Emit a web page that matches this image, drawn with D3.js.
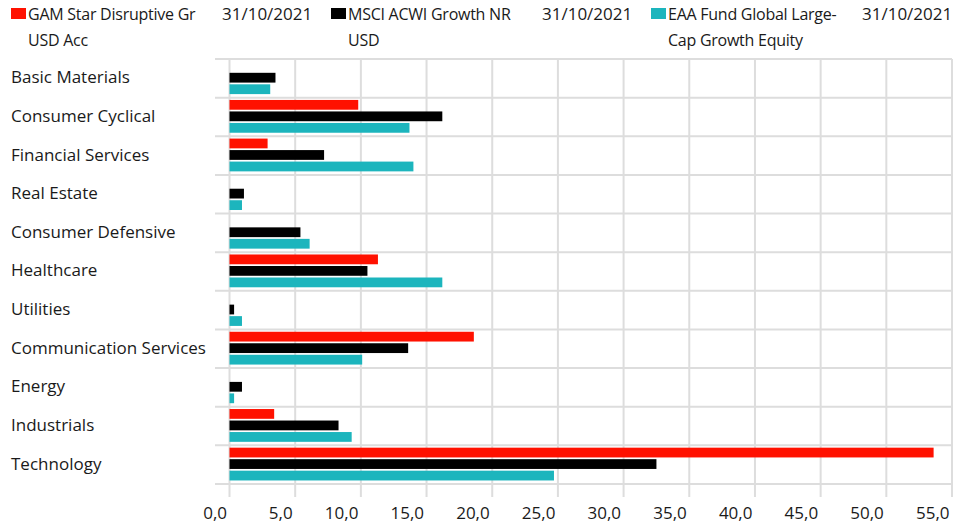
<!DOCTYPE html>
<html>
<head>
<meta charset="utf-8">
<script src="https://cdn.jsdelivr.net/npm/d3@7"></script>
<style>
  body { margin: 0; background: #fff; }
  svg text { font-family: "Open Sans", "Noto Sans", sans-serif; fill: #1a1a1a; }
</style>
</head>
<body>
<svg id="chart" width="954" height="528"></svg>
<script>
const categories = ['Basic Materials', 'Consumer Cyclical', 'Financial Services', 'Real Estate',
  'Consumer Defensive', 'Healthcare', 'Utilities', 'Communication Services', 'Energy',
  'Industrials', 'Technology']

const seriesNames = [
  ['GAM Star Disruptive Gr', 'USD Acc'],
  ['MSCI ACWI Growth NR', 'USD'],
  ['EAA Fund Global Large-', 'Cap Growth Equity']
]
const seriesDate = '31/10/2021'
const colors = ['#ff1100', '#000000', '#1cb5bd']

const gam  = [0, 9.8, 2.9, 0, 0, 11.3, 0, 18.6, 0, 3.4, 53.6]
const msci = [3.5, 16.2, 7.2, 1.1, 5.4, 10.5, 0.35, 13.6, 0.95, 8.3, 32.5]
const eaa  = [3.1, 13.7, 14.0, 0.95, 6.1, 16.2, 0.95, 10.1, 0.35, 9.3, 24.7]
const values = [gam, msci, eaa]

const xTicks = d3.range(0, 56, 5)

const svg = d3.select('#chart')
const plotL = 229.5, plotR = 952, plotT = 59, plotB = 484

const x = d3.scaleLinear().domain([0, 55]).range([plotL, plotR])
const y = d3.scaleBand().domain(categories).range([plotT, plotB])
const ySub = d3.scaleBand().domain([0, 1, 2]).range([2.3, 35.1]).paddingInner(0.15)

const grid = '#dddddd'

// vertical grid + ticks
svg.append('g').selectAll('line').data(xTicks).join('line')
  .attr('x1', d => x(d)).attr('x2', d => x(d))
  .attr('y1', plotT).attr('y2', plotB + 13)
  .attr('stroke', grid).attr('stroke-width', 2)

// horizontal separators
const seps = categories.map(c => y(c)).concat([plotB])
svg.append('g').selectAll('line').data(seps).join('line')
  .attr('x1', 215).attr('x2', plotR)
  .attr('y1', d => d).attr('y2', d => d)
  .attr('stroke', grid).attr('stroke-width', 2)

// bars
const bars = []
categories.forEach((c, i) => values.forEach((s, j) => bars.push({c, j, v: s[i]})))
svg.append('g').selectAll('rect').data(bars.filter(d => d.v > 0)).join('rect')
  .attr('x', x(0))
  .attr('y', d => y(d.c) + ySub(d.j))
  .attr('width', d => x(d.v) - x(0))
  .attr('height', ySub.bandwidth())
  .attr('fill', d => colors[d.j])

// category labels
svg.append('g').selectAll('text').data(categories).join('text')
  .attr('x', 11)
  .attr('y', d => y(d) + y.bandwidth() / 2 - 1)
  .attr('dy', '0.35em')
  .attr('font-size', 17)
  .text(d => d)

// x axis labels
const fmt = d3.formatLocale({decimal: ',', thousands: '.', grouping: [3], currency: ['', '']}).format('.1f')
const xAxis = svg.append('g').attr('transform', `translate(0,${plotB})`)
  .call(d3.axisBottom(x).tickValues(xTicks).tickFormat(fmt).tickSize(0).tickPadding(23))
xAxis.select('.domain').remove()
xAxis.selectAll('text')
  .attr('font-size', 17)
  .attr('text-anchor', 'end')
  .attr('dx', -3)
  .style('font-family', '"Open Sans", "Noto Sans", sans-serif')
  .attr('fill', '#1a1a1a')

// legend
const legend = svg.append('g')
seriesNames.forEach((lines, i) => {
  const lx = 11 + i * 320
  legend.append('rect').attr('x', lx).attr('y', 8).attr('width', 15).attr('height', 11).attr('fill', colors[i])
  lines.forEach((t, k) => {
    legend.append('text').attr('x', lx + 17).attr('y', 20 + k * 26)
      .attr('font-size', 16).attr('letter-spacing', -0.25).text(t)
  })
  legend.append('text').attr('x', lx + 211).attr('y', 20).attr('font-size', 17).text(seriesDate)
})
</script>
</body>
</html>
